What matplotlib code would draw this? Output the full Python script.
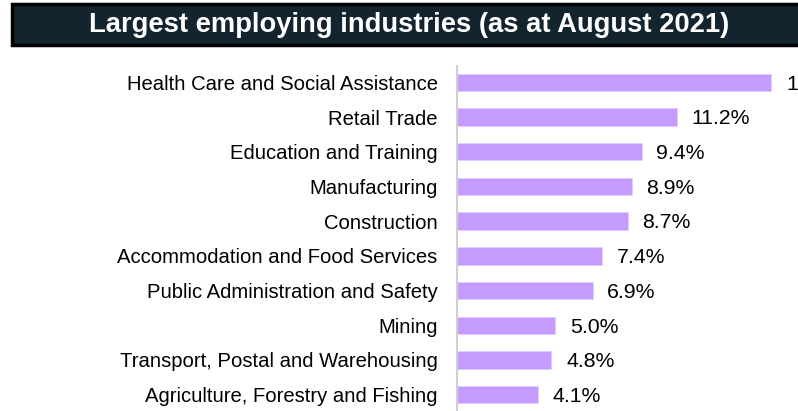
import matplotlib.pyplot as plt
from matplotlib.patches import Rectangle

plt.rcParams['font.family'] = ['Liberation Sans', 'DejaVu Sans']

industries = [
    "Health Care and Social Assistance",
    "Retail Trade",
    "Education and Training",
    "Manufacturing",
    "Construction",
    "Accommodation and Food Services",
    "Public Administration and Safety",
    "Mining",
    "Transport, Postal and Warehousing",
    "Agriculture, Forestry and Fishing",
]
share = [16.0, 11.2, 9.4, 8.9, 8.7, 7.4, 6.9, 5.0, 4.8, 4.1]

W, H = 798, 411
fig = plt.figure(figsize=(W / 100, H / 100), dpi=100)

# title banner
fig.patches.append(Rectangle((12 / W, 1 - 45 / H), 800 / W, 41 / H,
                             transform=fig.transFigure, facecolor='#13242f',
                             edgecolor='black', linewidth=2.5))
fig.text(409 / W, 1 - 25 / H, "Largest employing industries (as at August 2021)",
         ha='center', va='center', color='white', fontsize=19.7, fontweight='bold')

ax = fig.add_axes([457 / W, 0, 341 / W, 345 / H])
y = list(range(len(industries)))
ax.barh(y, share, height=0.5, color='#c59bff', edgecolor='#e2ccff', linewidth=0.6)
ax.set_xlim(0, 341 / 19.64)
ax.set_ylim(len(industries) - 0.53, -0.47)
ax.set_yticks(y)
ax.set_yticklabels(industries, fontsize=14.6)
ax.tick_params(axis='y', length=0, pad=14)
ax.set_xticks([])
for s in ['top', 'right', 'bottom']:
    ax.spines[s].set_visible(False)
ax.spines['left'].set_color('#d0d0d0')
ax.spines['left'].set_linewidth(1.5)

for yi, v in zip(y, share):
    ax.text(v + 0.75, yi + 0.05, f"{v:.1f}%", va='center', ha='left', fontsize=15.3,
            clip_on=False)

fig.savefig('out.png', dpi=100)
